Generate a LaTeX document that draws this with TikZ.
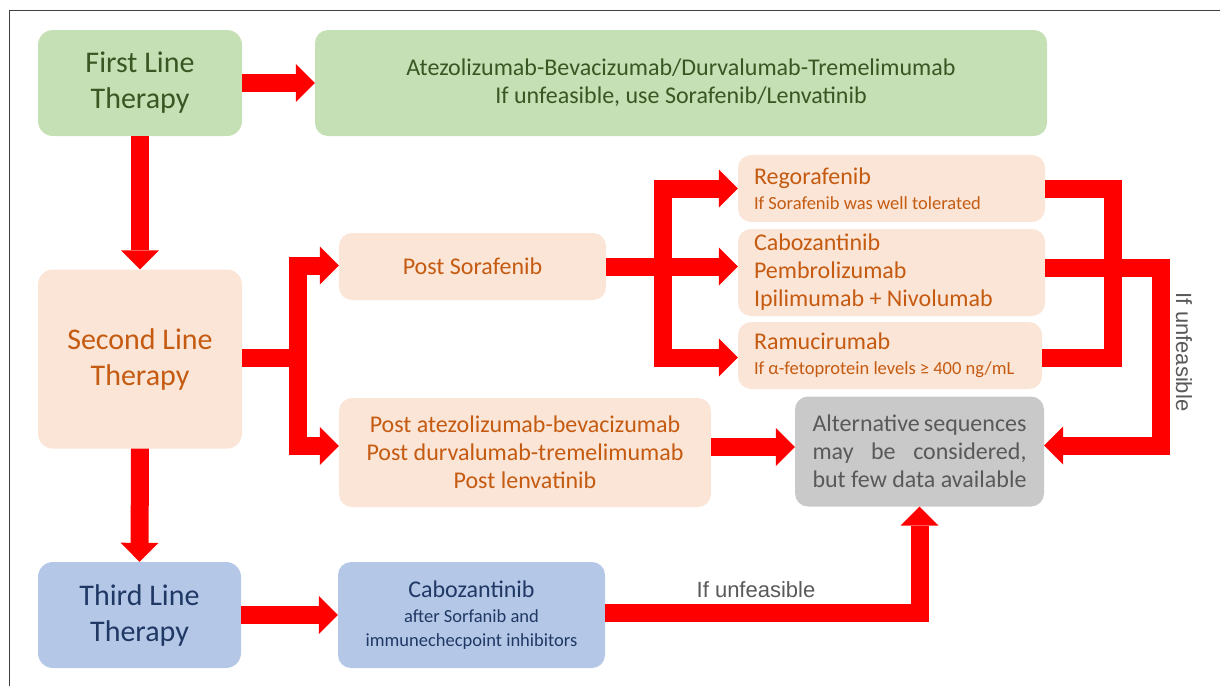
\documentclass[tikz,border=0pt]{standalone}
\usepackage{fontspec}
\setmainfont{Carlito}
\newfontfamily\arialfont{Liberation Sans}
\usepackage{tikz}
\usetikzlibrary{arrows.meta, positioning}
\definecolor{boxgreen}{RGB}{197, 224, 180}
\definecolor{textgreen}{RGB}{56, 87, 35}
\definecolor{boxpeach}{RGB}{251, 229, 214}
\definecolor{textorange}{RGB}{197, 90, 17}
\definecolor{boxblue}{RGB}{180, 199, 231}
\definecolor{textnavy}{RGB}{31, 56, 100}
\definecolor{boxgrey}{RGB}{201, 201, 201}
\definecolor{textgrey}{RGB}{89, 89, 89}
\definecolor{arrowred}{RGB}{255, 0, 0}
\definecolor{framegrey}{RGB}{64, 64, 64}
\newcommand{\bigtxt}{\fontsize{30}{36}\selectfont}
\newcommand{\medtxt}{\fontsize{24}{28}\selectfont}
\newcommand{\smalltxt}{\fontsize{18.5}{24}\selectfont}

\begin{document}
\begin{tikzpicture}[x=1pt, y=-1pt,
    therapy/.style={rounded corners=15pt, inner sep=0pt, align=center, font=\bigtxt},
    drugbox/.style={rounded corners=13pt, inner sep=0pt, align=center, font=\medtxt},
    listbox/.style={drugbox, align=flush left, inner xsep=16pt},
    lineone/.style={fill=boxgreen, text=textgreen},
    linetwo/.style={fill=boxpeach, text=textorange},
    linethree/.style={fill=boxblue, text=textnavy},
    redbar/.style={draw=arrowred, line width=18pt, line join=miter},
    redflow/.style={redbar, -{Triangle[length=19pt, width=38pt, line width=0pt]}},
    unfeasible/.style={text=textgrey, inner sep=0pt, font=\arialfont\fontsize{22}{26}\selectfont}
]
    \useasboundingbox (0,0) rectangle (1220,686);
    \draw[framegrey, line width=1.5pt] (9.5,686) -- (9.5,10.5) -- (1220,10.5);

    % boxes
    \node[therapy, lineone, minimum width=204pt, minimum height=106pt] (first) at (140,83) {First Line\\Therapy};
    \node[drugbox, lineone, minimum width=732pt, minimum height=106pt] (firstdrug) at (681,83)
        {Atezolizumab-Bevacizumab/Durvalumab-Tremelimumab\\If unfeasible, use Sorafenib/Lenvatinib};
    \node[therapy, linetwo, minimum width=204pt, minimum height=179pt] (second) at (140,359) {Second Line\\Therapy};
    \node[drugbox, linetwo, minimum width=267pt, minimum height=67pt] (postsor) at (472.5,266.5) {Post Sorafenib};
    \node[listbox, linetwo, text width=275pt, minimum height=67pt] (rego) at (891.5,188.5)
        {Regorafenib\\[-3pt]{\smalltxt If Sorafenib was well tolerated}};
    \node[listbox, linetwo, text width=275pt, minimum height=87pt] (cabo) at (891.5,272.5)
        {Cabozantinib\\Pembrolizumab\\Ipilimumab + Nivolumab};
    \node[listbox, linetwo, text width=272pt, minimum height=67pt] (ramu) at (890,355.5)
        {Ramucirumab\\[-3pt]{\smalltxt If α-fetoprotein levels ≥ 400 ng/mL}};
    \node[drugbox, linetwo, minimum width=372pt, minimum height=109pt] (postatezo) at (525,452.5)
        {Post atezolizumab-bevacizumab\\Post durvalumab-tremelimumab\\Post lenvatinib};
    \node[drugbox, fill=boxgrey, text=textgrey, minimum width=249pt, minimum height=110pt] (alt) at (919.5,451.5)
        {\makebox[214pt][s]{Alternative sequences}\\\makebox[214pt][s]{may be considered,}\\\makebox[214pt][s]{but few data available}};
    \node[therapy, linethree, minimum width=203pt, minimum height=106pt] (third) at (139.5,615) {Third Line\\Therapy};
    \node[drugbox, linethree, minimum width=267pt, minimum height=106pt] (cabothree) at (471.5,615)
        {Cabozantinib\\[-3pt]{\smalltxt after Sorfanib and}\\[-4pt]{\smalltxt immunechecpoint inhibitors}};

    % arrows
    \draw[redflow] (first.east) -- (firstdrug.west);
    \draw[redflow] (first.south) -- (second.north);
    \draw[redflow] (second.south) -- (third.north);
    \draw[redflow] (third.east) -- (cabothree.west);

    \draw[redflow] ([yshift=1.5pt]second.east) -- ++(56,0) coordinate (splitA) |- ([yshift=1pt]postsor.west);
    \draw[redflow] (splitA) |- ([yshift=6.5pt]postatezo.west);

    \draw[redflow] (postsor.east) -- (cabo.west |- postsor.east);
    \coordinate (splitB) at ([xshift=57pt]postsor.east);
    \draw[redflow] (splitB) |- (rego.west);
    \draw[redflow] (splitB) |- ([yshift=-2pt]ramu.west);

    \draw[redbar] (rego.east) -- ++(68,0) |- ([yshift=-2pt]ramu.east);
    \draw[redflow] ([yshift=4.5pt]cabo.east) -- ++(116,0) |- ([yshift=6pt]alt.east);
    \draw[redflow] ([yshift=5.5pt]postatezo.east) -- ([yshift=4.5pt]alt.west);
    \draw[redflow] ([yshift=2.5pt]cabothree.east) -| (alt.south);

    % labels
    \node[unfeasible] (unfA) at (756,590) {If unfeasible};
    \node[unfeasible, rotate=-90] (unfB) at (1184,352) {If unfeasible};
\end{tikzpicture}
\end{document}
